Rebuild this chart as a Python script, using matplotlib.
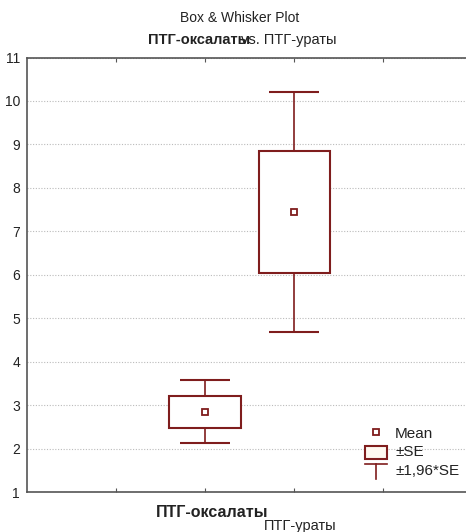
import matplotlib.pyplot as plt
from matplotlib.patches import Rectangle
from matplotlib.lines import Line2D

plt.rcParams['font.family'] = ['Liberation Sans', 'DejaVu Sans']

# data (mean, SE)
groups = ['ПТГ-оксалаты', 'ПТГ-ураты']
positions = [1, 2]
means = [2.85, 7.44]
se = [0.37, 1.41]
k = 1.96

red = '#7f1d1d'
grey = '#555555'

fig = plt.figure(figsize=(4.66, 5.32), dpi=100)
ax = fig.add_axes([27 / 466, 40 / 532, 439 / 466, 434.5 / 532])

for x, m, s in zip(positions, means, se):
    lo, hi = m - s, m + s
    wlo, whi = m - k * s, m + k * s
    ax.vlines(x, wlo, lo, color=red, lw=1.2, zorder=3)
    ax.vlines(x, hi, whi, color=red, lw=1.2, zorder=3)
    ax.hlines([wlo, whi], x - 0.28, x + 0.28, color=red, lw=1.5, zorder=3)
    ax.add_patch(Rectangle((x - 0.4, lo), 0.8, hi - lo, facecolor='white',
                           edgecolor=red, lw=1.5, zorder=3))
ax.plot(positions, means, 's', ms=4.5, mfc='white', mec=red, mew=1.3, ls='none', zorder=4)

ax.set_xlim(-1, 3.93)
ax.set_ylim(1, 11)
ax.set_yticks(range(1, 12))
ax.set_xticks([0, 1, 2, 3])
ax.set_xticklabels([])
ax.yaxis.grid(True, ls=(0, (1, 1.5)), color='#bbbbbb', lw=0.8)
ax.tick_params(axis='y', length=0, pad=5, labelsize=10, labelcolor='#222222')
ax.tick_params(axis='x', direction='in', length=3, color=grey, top=True)
for sp in ['left', 'top', 'bottom']:
    ax.spines[sp].set_color(grey)
    ax.spines[sp].set_linewidth(1.2)
ax.spines['right'].set_visible(False)

# category labels (staggered like the original)
tr = ax.get_xaxis_transform()
ax.text(positions[0] + 0.08, -0.03, groups[0], transform=tr, ha='center', va='top',
        fontsize=11.5, fontweight='bold', color='#222222')
ax.text(positions[1] + 0.07, -0.062, groups[1], transform=tr, ha='center', va='top',
        fontsize=10.5, color='#222222')

# titles
fig.text(240 / 466, 1 - 18 / 532, 'Box & Whisker Plot', ha='center', va='center',
         fontsize=10, color='#222222')
fig.text(250 / 466, 1 - 40 / 532, groups[0], ha='right', va='center',
         fontsize=10.5, fontweight='bold', color='#222222')
fig.text(241 / 466, 1 - 40 / 532, 'vs. ' + groups[1], ha='left', va='center',
         fontsize=10.5, color='#222222')

# legend drawn by hand in axes coordinates
def ax_xy(px, py):
    return (px - 27) / 439, (492 - py) / 434.5

lx0, _ = ax_xy(365, 0)
lx1, _ = ax_xy(387, 0)
lxc = (lx0 + lx1) / 2
tx, _ = ax_xy(395, 0)
_, y_mean = ax_xy(0, 432)
ax.plot([lxc], [y_mean], 's', ms=4.5, mfc='white', mec=red, mew=1.3,
        transform=ax.transAxes, clip_on=False, zorder=5)
_, yb0 = ax_xy(0, 459)
_, yb1 = ax_xy(0, 446)
ax.add_patch(Rectangle((lx0, yb0), lx1 - lx0, yb1 - yb0, transform=ax.transAxes,
                       facecolor='#fff8f0', edgecolor=red, lw=1.5, zorder=5))
_, yc = ax_xy(0, 464)
_, ys = ax_xy(0, 479)
ax.add_line(Line2D([lx0, lx1], [yc, yc], transform=ax.transAxes, color=red, lw=1.2, zorder=5))
ax.add_line(Line2D([lxc, lxc], [yc, ys], transform=ax.transAxes, color=red, lw=1.2, zorder=5))
for py, s in [(434, 'Mean'), (452, '±SE'), (471, '±1,96*SE')]:
    ax.text(tx, ax_xy(0, py)[1], s, transform=ax.transAxes, ha='left', va='center',
            fontsize=11, color='#222222', zorder=5)

fig.savefig('out.png', dpi=100)
